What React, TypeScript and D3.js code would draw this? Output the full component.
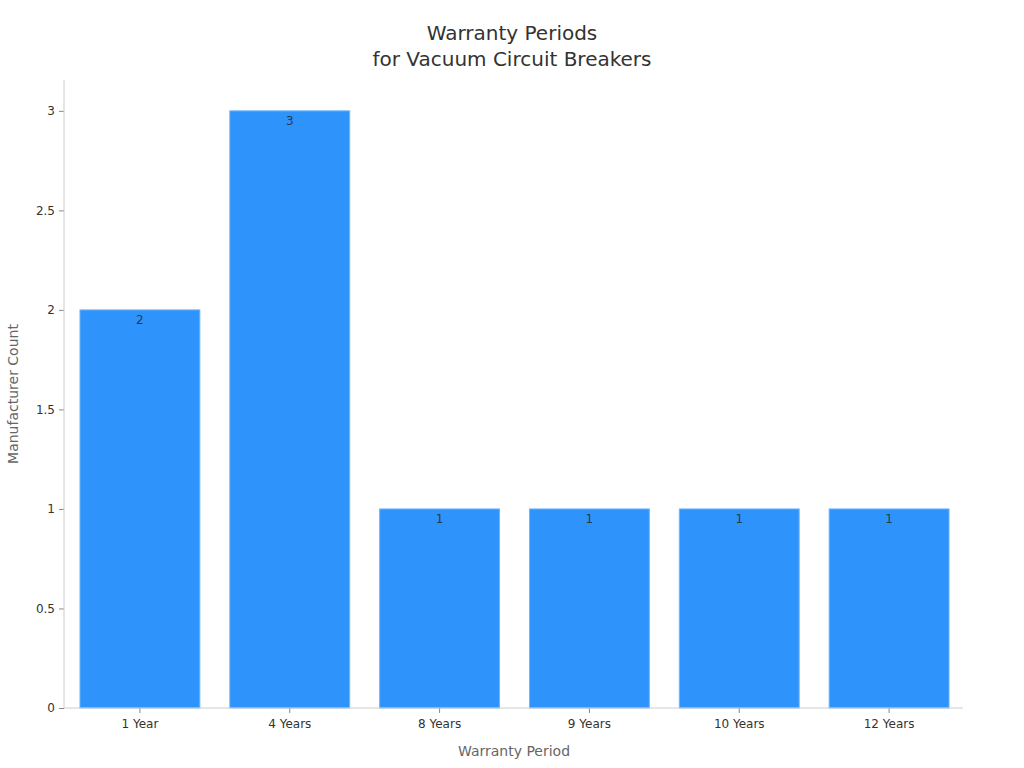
import React, { useEffect, useRef } from 'react';
import * as d3 from 'd3';

const categories = ['1 Year', '4 Years', '8 Years', '9 Years', '10 Years', '12 Years'];
const counts = [2, 3, 1, 1, 1, 1];
const yTicks = [0, 0.5, 1, 1.5, 2, 2.5, 3];

const WIDTH = 1024;
const HEIGHT = 768;
const margin = { top: 80, right: 60, bottom: 60, left: 64 };

export default function App() {
  const ref = useRef<SVGSVGElement>(null);

  useEffect(() => {
    document.body.style.margin = '0';
    if (!ref.current) return;
    const svg = d3.select(ref.current);
    svg.selectAll('*').remove();

    const font = 'DejaVu Sans, sans-serif';

    const x = d3.scaleBand()
      .domain(categories)
      .range([margin.left + 1, WIDTH - margin.right])
      .paddingInner(0.2)
      .paddingOuter(0.1);

    const y = d3.scaleLinear()
      .domain([0, 3.155])
      .range([HEIGHT - margin.bottom, margin.top]);

    // Titre
    svg.append('text')
      .attr('x', 512)
      .attr('y', 40)
      .attr('text-anchor', 'middle')
      .attr('font-family', font)
      .attr('font-size', 20)
      .attr('fill', '#333')
      .selectAll('tspan')
      .data(['Warranty Periods', 'for Vacuum Circuit Breakers'])
      .join('tspan')
      .attr('x', 512)
      .attr('dy', (_, i) => (i === 0 ? 0 : 26))
      .text(d => d);

    // Barres
    svg.selectAll('rect.bar')
      .data(counts)
      .join('rect')
      .attr('class', 'bar')
      .attr('x', (_, i) => x(categories[i]) || 0)
      .attr('y', d => y(d))
      .attr('width', x.bandwidth())
      .attr('height', d => y(0) - y(d))
      .attr('fill', '#2E93FA')
      .attr('stroke', '#6fb5fb')
      .attr('stroke-width', 1);

    // Valeurs
    svg.selectAll('text.val')
      .data(counts)
      .join('text')
      .attr('class', 'val')
      .attr('x', (_, i) => (x(categories[i]) || 0) + x.bandwidth() / 2)
      .attr('y', d => y(d) + 14)
      .attr('text-anchor', 'middle')
      .attr('font-family', font)
      .attr('font-size', 12)
      .attr('fill', '#2b3a4a')
      .text(d => `${d}`);

    // Axe Y
    const yAxis = svg.append('g')
      .attr('transform', `translate(${margin.left},0)`)
      .call(d3.axisLeft(y).tickValues(yTicks).tickSize(5).tickPadding(4).tickFormat(d => `${d}`));
    yAxis.select('.domain').remove();
    yAxis.append('line')
      .attr('x1', 0).attr('x2', 0)
      .attr('y1', margin.top).attr('y2', y(0))
      .attr('stroke', '#ccc');
    yAxis.selectAll('.tick line').attr('stroke', '#888');
    yAxis.selectAll('.tick text')
      .attr('font-family', font)
      .attr('font-size', 12)
      .attr('fill', '#333');

    // Axe X
    const xAxis = svg.append('g')
      .attr('transform', `translate(0,${y(0)})`)
      .call(d3.axisBottom(x).tickSize(5).tickPadding(6));
    xAxis.select('.domain').remove();
    xAxis.append('line')
      .attr('x1', margin.left).attr('x2', WIDTH - margin.right - 1)
      .attr('y1', 0).attr('y2', 0)
      .attr('stroke', '#ccc');
    xAxis.selectAll('.tick line').attr('stroke', '#888');
    xAxis.selectAll('.tick text')
      .attr('font-family', font)
      .attr('font-size', 12)
      .attr('fill', '#333');

    // Libellés des axes
    svg.append('text')
      .attr('x', (margin.left + WIDTH - margin.right) / 2)
      .attr('y', 756)
      .attr('text-anchor', 'middle')
      .attr('font-family', font)
      .attr('font-size', 14)
      .attr('fill', '#666')
      .text('Warranty Period');

    svg.append('text')
      .attr('transform', `translate(18,${(margin.top + y(0)) / 2}) rotate(-90)`)
      .attr('text-anchor', 'middle')
      .attr('font-family', font)
      .attr('font-size', 14)
      .attr('fill', '#666')
      .text('Manufacturer Count');
  }, []);

  return <svg ref={ref} width={WIDTH} height={HEIGHT} style={{ display: 'block', background: '#fff' }} />;
}
